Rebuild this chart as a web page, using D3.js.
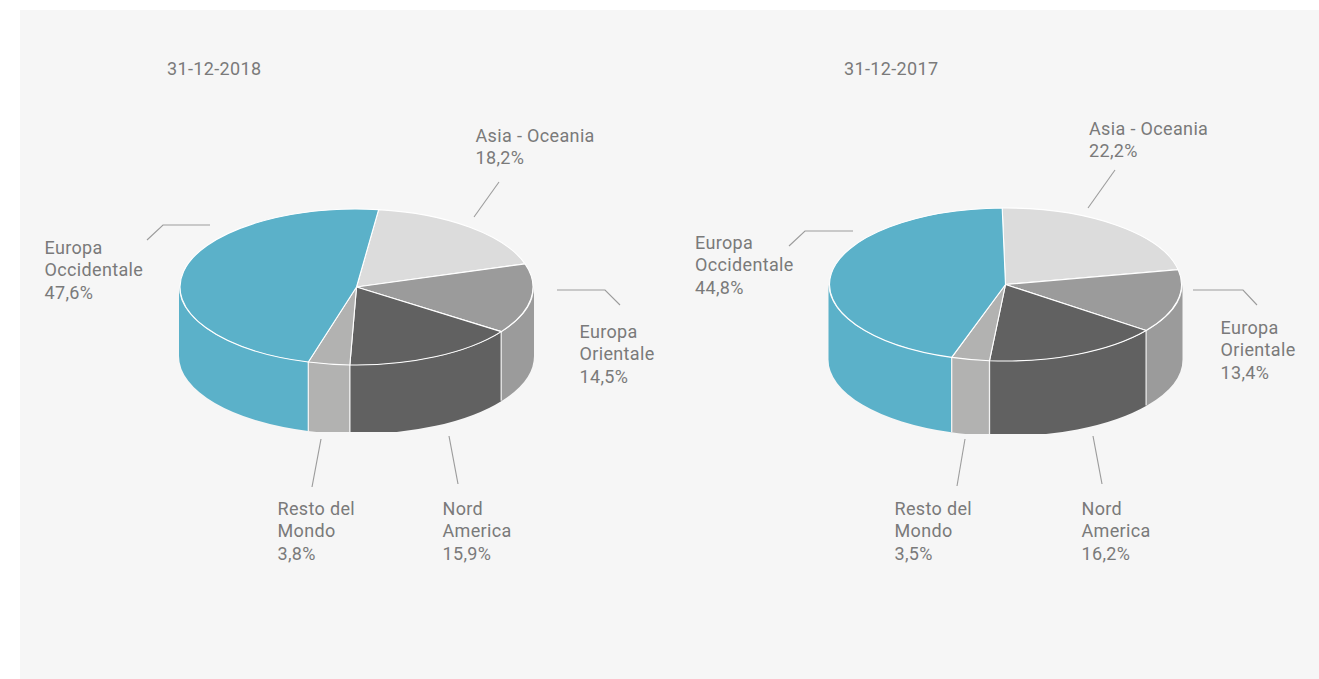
<!DOCTYPE html>
<html lang="it">
<head>
<meta charset="utf-8">
<title>Ripartizione geografica</title>
<script src="https://cdn.jsdelivr.net/npm/d3@7"></script>
<style>
  html, body { margin: 0; padding: 0; background: #fff; }
  svg { display: block; }
  text { font-family: Roboto, sans-serif; font-size: 18px; letter-spacing: 0.35px; fill: #7a7a7a; }
</style>
</head>
<body>
<svg id="chart" width="1319" height="679"></svg>
<script>
// Slices run clockwise from the top of each pie.
const regions = ["Asia - Oceania", "Europa Orientale", "Nord America", "Resto del Mondo", "Europa Occidentale"];
const values2018 = [18.2, 14.5, 15.9, 3.8, 47.6];
const values2017 = [22.2, 13.4, 16.2, 3.5, 44.8];
const dates = ["31-12-2018", "31-12-2017"];
const sliceColors = ["#dcdcdc", "#9b9b9b", "#616161", "#b2b2b1", "#5bb1c9"];
const labelLines = [["Asia - Oceania"], ["Europa", "Orientale"], ["Nord", "America"], ["Resto del", "Mondo"], ["Europa", "Occidentale"]];

// Geometry of the two tilted discs and of their annotations.
const pies = [
  {
    values: values2018, date: dates[0], dateX: 167, dateY: 74.5,
    cx: 356.5, cy: 287, rx: 176.5, ry: 78, depth: 69, floor: 432, turn: 0.02,
    labels: [[475.5, 142], [579.5, 338], [442.5, 515], [277.5, 515], [44.5, 254]],
    leaders: [
      [[474, 217], [499, 182]],
      [[557, 290], [605, 290], [620, 305]],
      [[449, 436], [458, 484]],
      [[321, 439], [312, 487]],
      [[147, 240], [163, 225], [210, 225]]
    ]
  },
  {
    values: values2017, date: dates[1], dateX: 844, dateY: 74.5,
    cx: 1005.5, cy: 284.5, rx: 176, ry: 76.5, depth: 75, floor: 434, turn: -0.003,
    labels: [[1089, 135], [1220.5, 334], [1081.5, 515], [894.5, 515], [695, 249]],
    leaders: [
      [[1088, 208], [1115, 170]],
      [[1193, 290], [1243, 290], [1257, 305]],
      [[1093, 436], [1102, 484]],
      [[965, 439], [957, 486]],
      [[789, 246], [805, 231], [853, 231]]
    ]
  }
];

const svg = d3.select("#chart");
svg.append("rect").attr("x", 20).attr("y", 10).attr("width", 1299).attr("height", 669).attr("fill", "#f6f6f6");

const lineGen = d3.line();
const TAU = 2 * Math.PI;

pies.forEach((p, pieIndex) => {
  const start = p.turn * TAU;
  const arcs = d3.pie().sort(null).startAngle(start).endAngle(start + TAU)(p.values);
  const g = svg.append("g");

  // Angle 0 is the top of the disc, growing clockwise.
  const rim = (a, rx, yOffset) => [p.cx + rx * Math.sin(a), p.cy - p.ry * Math.cos(a) + yOffset];
  const wallRx = p.rx + 1;

  // The wall is cut flat at the floor line.
  const clipId = "floor" + pieIndex;
  g.append("clipPath").attr("id", clipId).append("rect")
    .attr("x", p.cx - p.rx - 10).attr("y", p.cy - p.ry - 10)
    .attr("width", 2 * p.rx + 20).attr("height", p.floor - p.cy + p.ry + 10);

  const walls = g.append("g").attr("clip-path", `url(#${clipId})`);

  // Only the part of a slice between 90 and 270 degrees faces the viewer.
  const visible = d => {
    const a0 = Math.max(d.startAngle, Math.PI / 2);
    const a1 = Math.min(d.endAngle, 1.5 * Math.PI);
    return a1 > a0 ? [a0, a1] : null;
  };

  arcs.forEach((d, i) => {
    const range = visible(d);
    if (!range) return;
    const [a0, a1] = range;
    const t0 = rim(a0, wallRx, 0), t1 = rim(a1, wallRx, 0);
    const b0 = rim(a0, wallRx, p.depth), b1 = rim(a1, wallRx, p.depth);
    const wall = `M${t0}A${wallRx},${p.ry} 0 0 1 ${t1}L${b1}A${wallRx},${p.ry} 0 0 0 ${b0}Z`;
    walls.append("path").attr("d", wall).attr("fill", sliceColors[i]);
  });

  // White seams between neighbouring wall pieces.
  arcs.forEach(d => {
    const a = d.endAngle;
    if (a > Math.PI / 2 && a < 1.5 * Math.PI) {
      const t = rim(a, p.rx, 0), b = rim(a, p.rx, p.depth);
      walls.append("path").attr("d", lineGen([t, b]))
        .attr("stroke", "#f2f2f2").attr("stroke-width", 1.3).attr("fill", "none");
    }
  });

  // Top face of the disc.
  arcs.forEach((d, i) => {
    const s = rim(d.startAngle, p.rx, 0), e = rim(d.endAngle, p.rx, 0);
    const large = d.endAngle - d.startAngle > Math.PI ? 1 : 0;
    g.append("path")
      .attr("d", `M${p.cx},${p.cy}L${s}A${p.rx},${p.ry} 0 ${large} 1 ${e}Z`)
      .attr("fill", sliceColors[i])
      .attr("stroke", "#fff").attr("stroke-width", 1.1).attr("stroke-linejoin", "round");
  });

  // Leader lines.
  p.leaders.forEach(pts => {
    g.append("path").attr("d", lineGen(pts)).attr("fill", "none")
      .attr("stroke", "#9c9c9c").attr("stroke-width", 1.1);
  });

  // Region labels with their percentage on the last line.
  regions.forEach((name, i) => {
    const [x, y] = p.labels[i];
    const rows = labelLines[i].concat(d3.format(".1f")(p.values[i]).replace(".", ",") + "%");
    const t = g.append("text").attr("x", x).attr("y", y).attr("aria-label", name);
    rows.forEach((row, r) => {
      t.append("tspan").attr("x", x).attr("y", y + r * 22.4).text(row);
    });
  });

  g.append("text").attr("x", p.dateX).attr("y", p.dateY).text(p.date);
});
</script>
</body>
</html>
